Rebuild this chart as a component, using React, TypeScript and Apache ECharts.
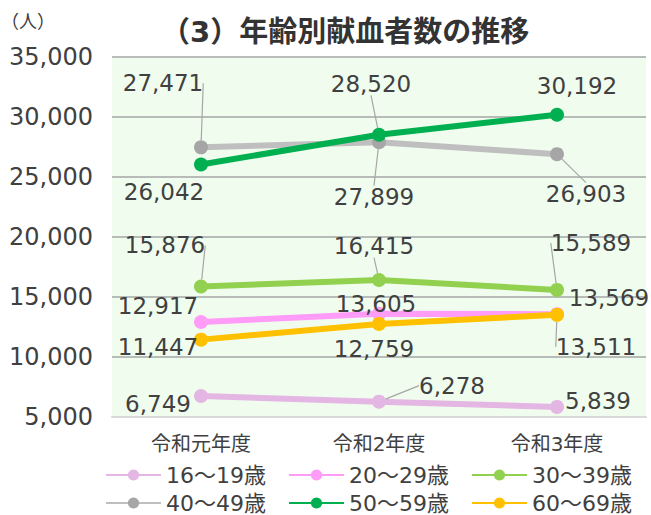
import React, { useEffect, useRef } from "react";
import * as echarts from "echarts";

const categories = ["令和元年度", "令和2年度", "令和3年度"];
const seriesNames = ["16～19歳", "20～29歳", "30～39歳", "40～49歳", "50～59歳", "60～69歳"];
const age16to19 = [6749, 6278, 5839];
const age20to29 = [12917, 13605, 13569];
const age30to39 = [15876, 16415, 15589];
const age40to49 = [27471, 27899, 26903];
const age50to59 = [26042, 28520, 30192];
const age60to69 = [11447, 12759, 13511];
const yTicks = { min: 5000, max: 35000, interval: 5000 };

// styling (not data)
const lineColors = ["#e3b6e3", "#ff9cf8", "#92d050", "#bfbfbf", "#00b050", "#ffc000"];
const markerColors = ["#e3b6e3", "#ff9cf8", "#92d050", "#a6a6a6", "#00b050", "#ffc000"];
const labelOffsets: number[][][] = [
  [[-43, 8], [73, -16], [41, -6]],
  [[-43, -16], [-3, -10], [52, -16]],
  [[-36, -41], [-5, -34], [34, -47]],
  [[-38, -64], [-5, 55], [29, 40]],
  [[-37, 28], [-8, -51], [20, -29]],
  [[-43, 7], [-5, 25], [39, 32]],
];
const leaderShown: boolean[][] = [
  [false, true, false],
  [false, false, false],
  [true, true, true],
  [true, true, true],
  [false, true, false],
  [false, false, true],
];

const FONT = "'DejaVu Sans', 'Noto Sans CJK JP', sans-serif";
const fmt = (v: number) => v.toLocaleString("en-US");

export default function App() {
  const ref = useRef<HTMLDivElement>(null);
  useEffect(() => {
    if (!ref.current) return;
    const chart = echarts.init(ref.current, null, { renderer: "svg" });
    const allData = [age16to19, age20to29, age30to39, age40to49, age50to59, age60to69];
    const series = allData.map((vals, si) => ({
      name: seriesNames[si],
      type: "line",
      data: vals.map((v, di) => ({
        value: v,
        labelLine: { show: leaderShown[si][di] },
      })),
      symbol: "circle",
      symbolSize: 14,
      lineStyle: { color: lineColors[si], width: 6 },
      itemStyle: { color: markerColors[si] },
      label: {
        show: true,
        position: "inside",
        formatter: (p: any) => fmt(p.value),
        fontSize: 23,
        fontFamily: FONT,
        color: "#404040",
      },
      labelLine: { show: true, lineStyle: { color: "#a6a6a6", width: 1.2 } },
      labelLayout: (p: any) => {
        const o = labelOffsets[si][p.dataIndex];
        return { dx: o[0], dy: o[1] };
      },
      z: 2 + si,
    }));
    const legendCommon = {
      orient: "horizontal",
      itemWidth: 55,
      itemHeight: 14,
      itemGap: 22,
      textStyle: { fontSize: 22, fontFamily: FONT, color: "#404040" },
      left: 100,
    };
    chart.setOption({
      animation: false,
      textStyle: { fontFamily: FONT },
      title: {
        text: "（3）年齢別献血者数の推移",
        left: 156,
        top: 12,
        textStyle: { fontSize: 29, fontWeight: "bold", color: "#333333", fontFamily: FONT },
      },
      graphic: [
        {
          type: "text",
          left: 1,
          top: 12,
          style: { text: "（人）", fontSize: 18, fill: "#404040", fontFamily: FONT },
        },
      ],
      legend: [
        { ...legendCommon, top: 459, data: seriesNames.slice(0, 3) },
        { ...legendCommon, top: 487, data: seriesNames.slice(3, 6) },
      ],
      grid: {
        left: 112,
        right: 5,
        top: 57,
        bottom: 98,
        show: true,
        backgroundColor: "#f0fdee",
        borderWidth: 0,
      },
      xAxis: {
        type: "category",
        data: categories,
        boundaryGap: true,
        axisTick: { show: false },
        axisLine: { lineStyle: { color: "#d9d9d9", width: 2 } },
        axisLabel: { fontSize: 20, color: "#404040", margin: 17, interval: 0, fontFamily: FONT },
      },
      yAxis: {
        type: "value",
        min: yTicks.min,
        max: yTicks.max,
        interval: yTicks.interval,
        axisLine: { show: false },
        axisTick: { show: false },
        splitLine: { lineStyle: { color: "#a6a6a6", width: 1.5 } },
        axisLabel: {
          fontSize: 24,
          color: "#404040",
          margin: 19,
          fontFamily: FONT,
          formatter: (v: number) => fmt(v),
        },
      },
      series,
    });
    return () => chart.dispose();
  }, []);
  return (
    <div
      ref={ref}
      style={{ position: "fixed", left: 0, top: 0, width: 651, height: 515, background: "#fff" }}
    />
  );
}
